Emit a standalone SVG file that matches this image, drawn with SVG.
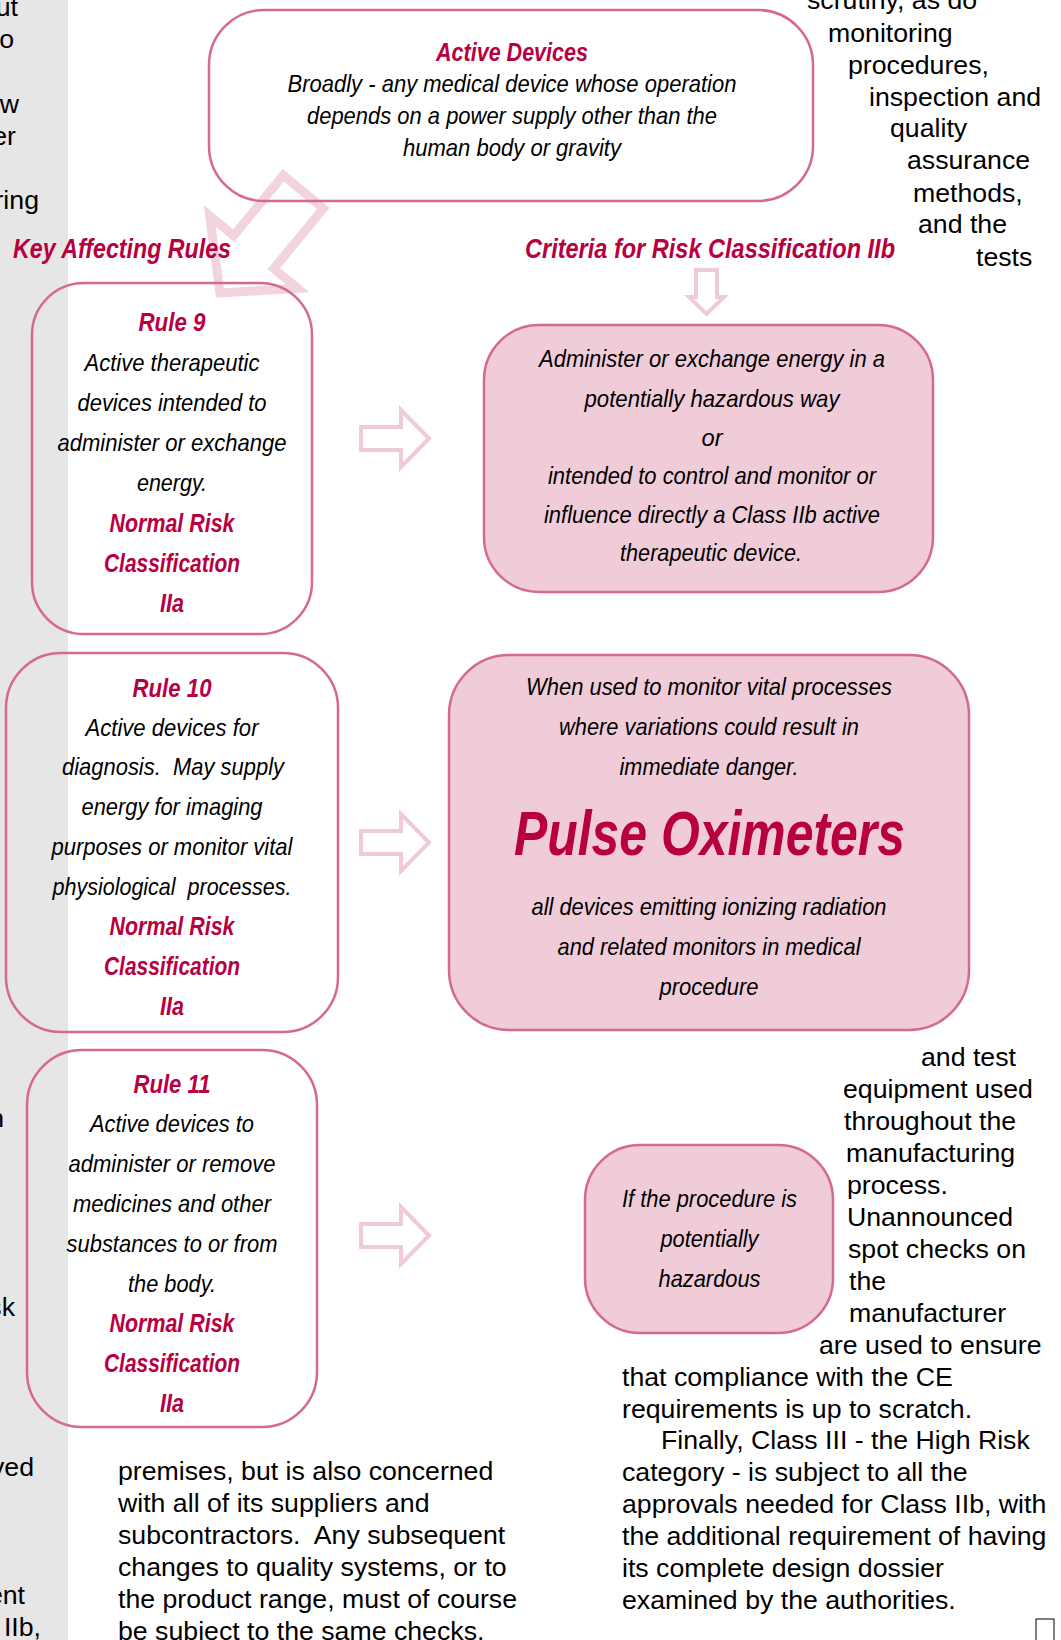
<svg xmlns="http://www.w3.org/2000/svg" width="1061" height="1640" viewBox="0 0 1061 1640">
<style>
.it{font-family:"Liberation Sans Narrow","Liberation Sans",Arial,sans-serif;font-style:italic;font-size:24px;fill:#000;text-anchor:middle}
.rd{font-family:"Liberation Sans Narrow","Liberation Sans",Arial,sans-serif;font-style:italic;font-weight:bold;font-size:25px;fill:#b8003f;text-anchor:middle}
.hd{font-family:"Liberation Sans Narrow","Liberation Sans",Arial,sans-serif;font-style:italic;font-weight:bold;font-size:28px;fill:#b8003f}
.bd{font-family:"Liberation Sans",Arial,sans-serif;font-size:26.7px;fill:#000}
.en{text-anchor:end}
.box{fill:none;stroke:#d46a8e;stroke-width:2.5}
.pbox{fill:#f0ccd9;stroke:#d46a8e;stroke-width:2.5}
.arr{fill:none;stroke:#f0cad8;stroke-width:4}
.big{fill:none;stroke:#f2d4de;stroke-width:9;stroke-linejoin:miter}
</style>
<defs>
<path id="rarrow" d="M0,17 H40 V0 L68,28.5 L40,57 V40 H0 Z"/>
</defs>
<rect x="0" y="0" width="68" height="1640" fill="#e6e6e6"/>

<g id="left-margin-text" class="bd">
<text class="en" x="18" y="16">ut</text>
<text class="en" x="14" y="48">o</text>
<text class="en" x="19" y="113">w</text>
<text class="en" x="16" y="145">er</text>
<text class="en" x="39" y="209">ring</text>
<text class="en" x="4" y="1127">n</text>
<text class="en" x="15" y="1316">sk</text>
<text class="en" x="34" y="1476">ved</text>
<text class="en" x="25" y="1604">ent</text>
<text class="en" x="41" y="1636">IIb,</text>
</g>

<g id="right-top-text" class="bd">
<text x="807" y="9">scrutiny, as do</text>
<text x="828" y="42">monitoring</text>
<text x="848" y="74">procedures,</text>
<text x="869" y="106">inspection and</text>
<text x="890" y="137">quality</text>
<text x="907" y="169">assurance</text>
<text x="913" y="202">methods,</text>
<text x="918" y="233">and the</text>
<text x="976" y="266">tests</text>
</g>

<g id="right-mid-text" class="bd">
<text x="921" y="1066">and test</text>
<text x="843" y="1098">equipment used</text>
<text x="844" y="1130">throughout the</text>
<text x="846" y="1162">manufacturing</text>
<text x="847" y="1194">process.</text>
<text x="847" y="1226">Unannounced</text>
<text x="848" y="1258">spot checks on</text>
<text x="849" y="1290">the</text>
<text x="849" y="1322">manufacturer</text>
<text x="819" y="1354">are used to ensure</text>
<text x="622" y="1386">that compliance with the CE</text>
<text x="622" y="1418">requirements is up to scratch.</text>
<text x="661" y="1449">Finally, Class III - the High Risk</text>
<text x="622" y="1481">category - is subject to all the</text>
<text x="622" y="1513">approvals needed for Class IIb, with</text>
<text x="622" y="1545">the additional requirement of having</text>
<text x="622" y="1577">its complete design dossier</text>
<text x="622" y="1609">examined by the authorities.</text>
</g>

<g id="bottom-mid-text" class="bd">
<text x="118" y="1480">premises, but is also concerned</text>
<text x="118" y="1512">with all of its suppliers and</text>
<text x="118" y="1544" style="white-space:pre">subcontractors.  Any subsequent</text>
<text x="118" y="1576">changes to quality systems, or to</text>
<text x="118" y="1608">the product range, must of course</text>
<text x="118" y="1640">be subject to the same checks.</text>
</g>

<rect x="1036" y="1619" width="18" height="30" fill="none" stroke="#000" stroke-width="1"/>

<g id="connectors">
<path class="big" d="M0,0 L-53,-57 L-53,-26 L-131,-26 L-131,26 L-53,26 L-53,57 Z" transform="translate(220,293) rotate(129.5)"/>
<path class="arr" d="M696,270 H717 V297 H724 L706.5,314 L689,297 H696 Z"/>
<use href="#rarrow" class="arr" x="361" y="410"/>
<use href="#rarrow" class="arr" x="361" y="814"/>
<use href="#rarrow" class="arr" x="361" y="1207"/>
</g>

<g id="active-devices">
<rect class="box" x="209" y="10" width="604" height="191" rx="55"/>
<text class="rd" x="512" y="61" textLength="152" lengthAdjust="spacingAndGlyphs">Active Devices</text>
<text class="it" x="512" y="92" textLength="449" lengthAdjust="spacingAndGlyphs">Broadly - any medical device whose operation</text>
<text class="it" x="512" y="124" textLength="410" lengthAdjust="spacingAndGlyphs">depends on a power supply other than the</text>
<text class="it" x="512" y="156" textLength="218" lengthAdjust="spacingAndGlyphs">human body or gravity</text>
</g>

<g id="key-affecting-rules">
<text class="hd" x="13" y="258" textLength="218" lengthAdjust="spacingAndGlyphs">Key Affecting Rules</text>
</g>
<g id="criteria-heading">
<text class="hd" x="525" y="258" textLength="370" lengthAdjust="spacingAndGlyphs">Criteria for Risk Classification IIb</text>
</g>

<g id="rule-9">
<rect class="box" x="32" y="283" width="280" height="351" rx="52"/>
<text class="rd" x="172" y="331" textLength="67" lengthAdjust="spacingAndGlyphs">Rule 9</text>
<text class="it" x="172" y="371" textLength="175" lengthAdjust="spacingAndGlyphs">Active therapeutic</text>
<text class="it" x="172" y="411" textLength="189" lengthAdjust="spacingAndGlyphs">devices intended to</text>
<text class="it" x="172" y="451" textLength="229" lengthAdjust="spacingAndGlyphs">administer or exchange</text>
<text class="it" x="172" y="491" textLength="70" lengthAdjust="spacingAndGlyphs">energy.</text>
<text class="rd" x="172" y="532" textLength="125" lengthAdjust="spacingAndGlyphs">Normal Risk</text>
<text class="rd" x="172" y="572" textLength="136" lengthAdjust="spacingAndGlyphs">Classification</text>
<text class="rd" x="172" y="612" textLength="24" lengthAdjust="spacingAndGlyphs">IIa</text>
</g>

<g id="rule-10">
<rect class="box" x="6" y="653" width="332" height="379" rx="55"/>
<text class="rd" x="172" y="697" textLength="79" lengthAdjust="spacingAndGlyphs">Rule 10</text>
<text class="it" x="172" y="736" textLength="173" lengthAdjust="spacingAndGlyphs">Active devices for</text>
<text class="it" x="173" y="775" textLength="222" lengthAdjust="spacingAndGlyphs" style="white-space:pre">diagnosis.  May supply</text>
<text class="it" x="172" y="815" textLength="181" lengthAdjust="spacingAndGlyphs">energy for imaging</text>
<text class="it" x="172" y="855" textLength="241" lengthAdjust="spacingAndGlyphs">purposes or monitor vital</text>
<text class="it" x="172" y="895" textLength="239" lengthAdjust="spacingAndGlyphs" style="white-space:pre">physiological  processes.</text>
<text class="rd" x="172" y="935" textLength="125" lengthAdjust="spacingAndGlyphs">Normal Risk</text>
<text class="rd" x="172" y="975" textLength="136" lengthAdjust="spacingAndGlyphs">Classification</text>
<text class="rd" x="172" y="1015" textLength="24" lengthAdjust="spacingAndGlyphs">IIa</text>
</g>

<g id="rule-11">
<rect class="box" x="27" y="1050" width="290" height="377" rx="55"/>
<text class="rd" x="172" y="1093" textLength="77" lengthAdjust="spacingAndGlyphs">Rule 11</text>
<text class="it" x="172" y="1132" textLength="164" lengthAdjust="spacingAndGlyphs">Active devices to</text>
<text class="it" x="172" y="1172" textLength="207" lengthAdjust="spacingAndGlyphs">administer or remove</text>
<text class="it" x="172" y="1212" textLength="198" lengthAdjust="spacingAndGlyphs">medicines and other</text>
<text class="it" x="172" y="1252" textLength="211" lengthAdjust="spacingAndGlyphs">substances to or from</text>
<text class="it" x="172" y="1292" textLength="88" lengthAdjust="spacingAndGlyphs">the body.</text>
<text class="rd" x="172" y="1332" textLength="125" lengthAdjust="spacingAndGlyphs">Normal Risk</text>
<text class="rd" x="172" y="1372" textLength="136" lengthAdjust="spacingAndGlyphs">Classification</text>
<text class="rd" x="172" y="1412" textLength="24" lengthAdjust="spacingAndGlyphs">IIa</text>
</g>

<g id="criteria-energy">
<rect class="pbox" x="484" y="325" width="449" height="267" rx="55"/>
<text class="it" x="712" y="367" textLength="346" lengthAdjust="spacingAndGlyphs">Administer or exchange energy in a</text>
<text class="it" x="712" y="407" textLength="255" lengthAdjust="spacingAndGlyphs">potentially hazardous way</text>
<text class="it" x="712" y="446" textLength="21" lengthAdjust="spacingAndGlyphs">or</text>
<text class="it" x="712" y="484" textLength="328" lengthAdjust="spacingAndGlyphs">intended to control and monitor or</text>
<text class="it" x="712" y="523" textLength="336" lengthAdjust="spacingAndGlyphs">influence directly a Class IIb active</text>
<text class="it" x="711" y="561" textLength="182" lengthAdjust="spacingAndGlyphs">therapeutic device.</text>
</g>

<g id="criteria-monitoring">
<rect class="pbox" x="449" y="655" width="520" height="375" rx="60"/>
<text class="it" x="709" y="695" textLength="366" lengthAdjust="spacingAndGlyphs">When used to monitor vital processes</text>
<text class="it" x="709" y="735" textLength="300" lengthAdjust="spacingAndGlyphs">where variations could result in</text>
<text class="it" x="709" y="775" textLength="179" lengthAdjust="spacingAndGlyphs">immediate danger.</text>
<text class="rd" x="709.5" y="855" style="font-size:63px" textLength="391" lengthAdjust="spacingAndGlyphs">Pulse Oximeters</text>
<text class="it" x="709" y="915" textLength="355" lengthAdjust="spacingAndGlyphs">all devices emitting ionizing radiation</text>
<text class="it" x="709" y="955" textLength="303" lengthAdjust="spacingAndGlyphs">and related monitors in medical</text>
<text class="it" x="709" y="995" textLength="99" lengthAdjust="spacingAndGlyphs">procedure</text>
</g>

<g id="criteria-hazardous">
<rect class="pbox" x="585" y="1145" width="248" height="188" rx="55"/>
<text class="it" x="709.5" y="1207" textLength="175" lengthAdjust="spacingAndGlyphs">If the procedure is</text>
<text class="it" x="709.5" y="1247" textLength="98" lengthAdjust="spacingAndGlyphs">potentially</text>
<text class="it" x="709.5" y="1287" textLength="102" lengthAdjust="spacingAndGlyphs">hazardous</text>
</g>
</svg>
